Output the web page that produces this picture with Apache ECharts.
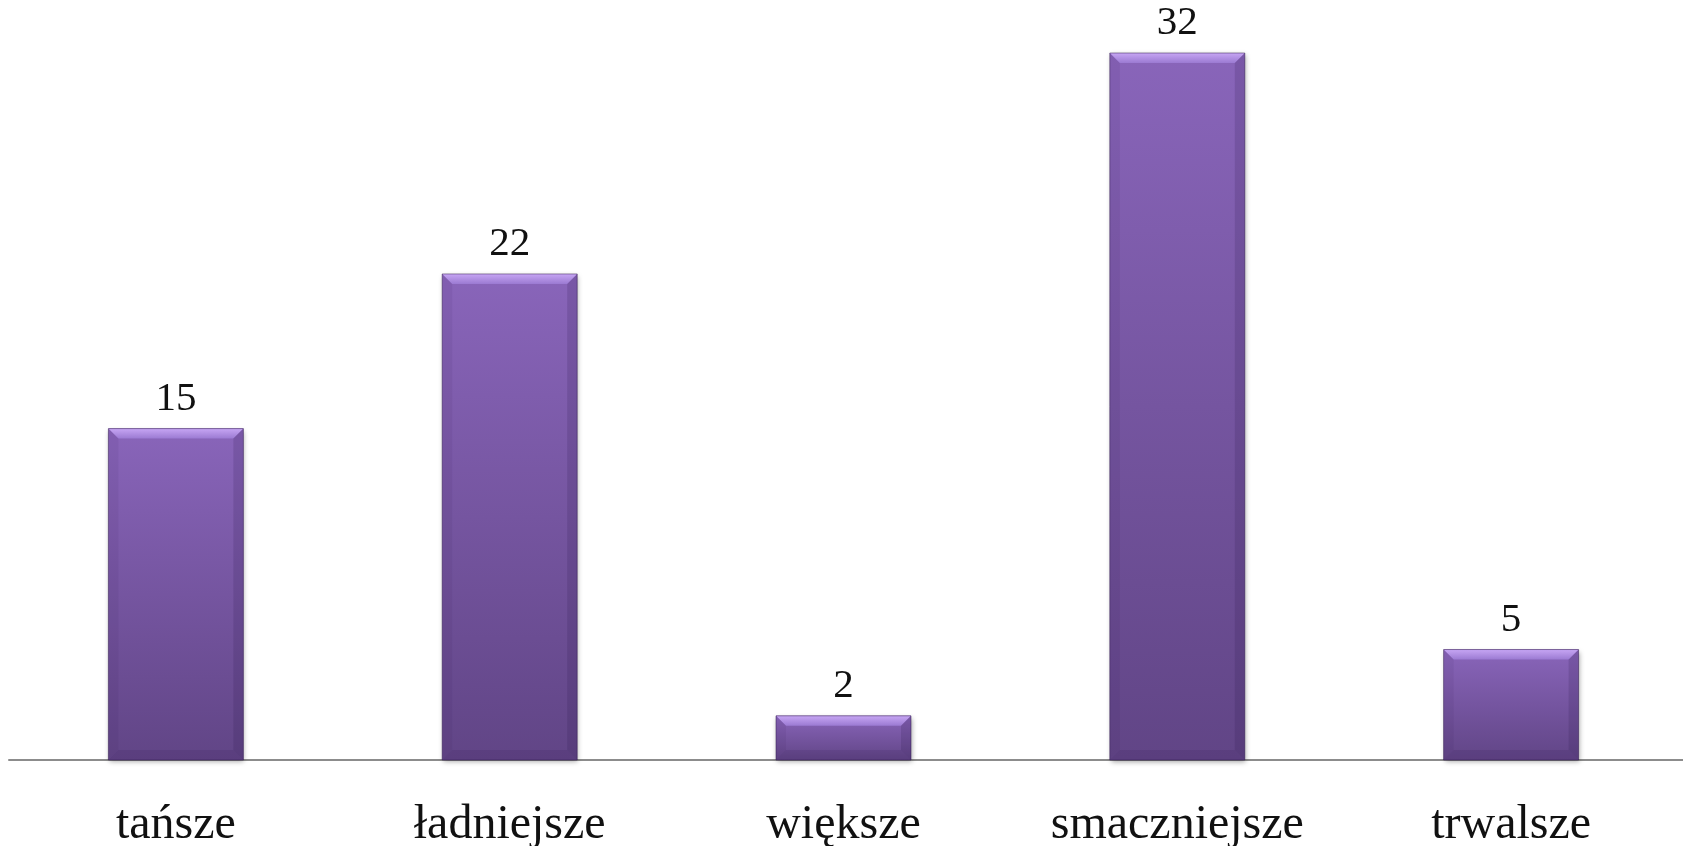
<!DOCTYPE html>
<html>
<head>
<meta charset="utf-8">
<style>
  html, body { margin: 0; padding: 0; background: #ffffff; }
  #chart { width: 1683px; height: 846px; }
</style>
<script src="https://cdn.jsdelivr.net/npm/echarts@6/dist/echarts.min.js"></script>
</head>
<body>
<div id="chart"></div>
<script>
// Categories and counts
const categories = ['tańsze', 'ładniejsze', 'większe', 'smaczniejsze', 'trwalsze'];
const counts = [15, 22, 2, 32, 5];

const BAR_WIDTH = 135;
const BEVEL = 10;
const SERIF = '"Liberation Serif", "DejaVu Serif", serif';

const chart = echarts.init(document.getElementById('chart'), null, { renderer: 'canvas' });

// Bevelled edges drawn over each bar, positioned through the axis scales
function renderBevel(params, api) {
  const idx = api.value(0);
  const val = api.value(1);
  const top = api.coord([idx, val]);
  const base = api.coord([idx, 0]);
  const x0 = top[0] - BAR_WIDTH / 2;
  const x1 = top[0] + BAR_WIDTH / 2;
  const y0 = top[1];
  const y1 = base[1];
  const b = Math.min(BEVEL, (y1 - y0) / 3);
  return {
    type: 'group',
    children: [
      {
        type: 'polygon',
        shape: { points: [[x0, y0], [x1, y0], [x1 - b, y0 + b], [x0 + b, y0 + b]] },
        style: {
          fill: new echarts.graphic.LinearGradient(0, 0, 0, 1, [
            { offset: 0, color: '#c7a6f4' },
            { offset: 1, color: '#9b7ad2' }
          ])
        }
      },
      {
        type: 'polygon',
        shape: { points: [[x0, y0], [x0 + b, y0 + b], [x0 + b, y1 - b], [x0, y1]] },
        style: { fill: 'rgba(40,20,70,0.07)' }
      },
      {
        type: 'polygon',
        shape: { points: [[x1, y0], [x1 - b, y0 + b], [x1 - b, y1 - b], [x1, y1]] },
        style: { fill: 'rgba(40,20,70,0.16)' }
      },
      {
        type: 'polygon',
        shape: { points: [[x0, y1], [x0 + b, y1 - b], [x1 - b, y1 - b], [x1, y1]] },
        style: { fill: 'rgba(30,10,60,0.10)' }
      },
      {
        type: 'rect',
        shape: { x: x0, y: y0, width: BAR_WIDTH, height: y1 - y0 },
        style: { fill: 'none', stroke: 'rgba(50,25,80,0.5)', lineWidth: 1 }
      }
    ]
  };
}

chart.setOption({
  animation: false,
  backgroundColor: '#ffffff',
  grid: [
    // plot area for the bars
    { left: 9, right: 5, top: 53, bottom: 86, containLabel: false, outerBoundsMode: 'none' },
    // baseline running to the right edge
    { left: 9, right: 0, top: 53, bottom: 86, containLabel: false, outerBoundsMode: 'none' }
  ],
  xAxis: [
    {
      type: 'category',
      gridIndex: 0,
      data: categories,
      axisLine: { show: false },
      axisTick: { show: false },
      axisLabel: {
        margin: 41,
        fontFamily: SERIF,
        fontSize: 48,
        lineHeight: 48,
        color: '#111111'
      }
    },
    {
      type: 'value',
      gridIndex: 1,
      min: 0,
      max: 1,
      axisLine: { show: true, lineStyle: { color: '#8c8c8c', width: 2 } },
      axisTick: { show: false },
      axisLabel: { show: false },
      splitLine: { show: false }
    }
  ],
  yAxis: [
    { type: 'value', gridIndex: 0, min: 0, max: 32, show: false, splitLine: { show: false } },
    { type: 'value', gridIndex: 1, min: 0, max: 1, show: false, splitLine: { show: false } }
  ],
  series: [
    {
      type: 'bar',
      data: counts,
      barWidth: BAR_WIDTH,
      itemStyle: {
        color: new echarts.graphic.LinearGradient(0, 0, 0, 1, [
          { offset: 0, color: '#8965ba' },
          { offset: 1, color: '#614586' }
        ]),
        shadowColor: 'rgba(0,0,0,0.35)',
        shadowBlur: 5,
        shadowOffsetX: 1,
        shadowOffsetY: 2
      },
      label: {
        show: true,
        position: 'top',
        distance: 9,
        fontFamily: SERIF,
        fontSize: 41,
        color: '#111111'
      },
      z: 3
    },
    {
      type: 'custom',
      renderItem: renderBevel,
      data: counts.map((v, i) => [i, v]),
      silent: true,
      z: 4
    }
  ]
});
</script>
</body>
</html>
